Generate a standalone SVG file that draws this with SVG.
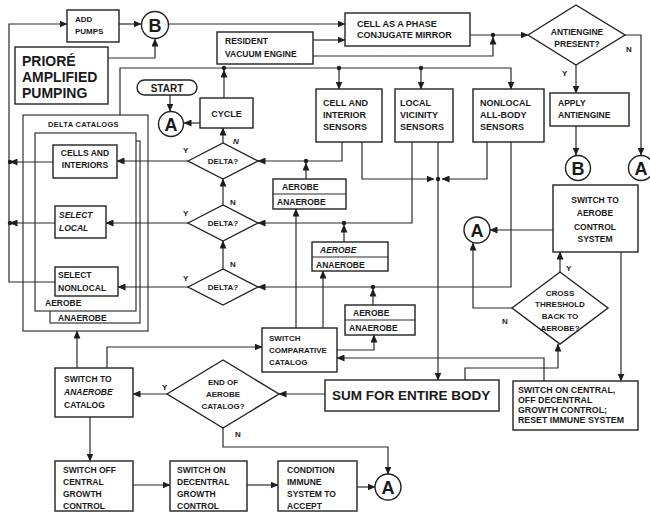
<svg xmlns="http://www.w3.org/2000/svg" width="650" height="516" viewBox="0 0 650 516">
<defs>
<marker id="ah" markerWidth="8" markerHeight="7" refX="7.5" refY="3.5" orient="auto" markerUnits="userSpaceOnUse">
<path d="M0,0 L8,3.5 L0,7 Z" fill="#1e1e1e"/>
</marker>
<style>
.b{fill:#fff;stroke:#222;stroke-width:1.4}
.t{font-family:"Liberation Sans",Arial,sans-serif;font-weight:bold;font-size:8.5px;fill:#1a1a1a}
.s{font-size:8px}
.m{text-anchor:middle}
.i{font-style:italic}
.c{fill:none;stroke:#2a2a2a;stroke-width:1.2;marker-end:url(#ah)}
.l{fill:none;stroke:#2a2a2a;stroke-width:1.2}
.d{fill:#1e1e1e}
.big{font-size:18px}
.n9{font-size:9px}
.p14{font-size:14px}
</style>
</defs>
<rect width="650" height="516" fill="#fff"/>

<!-- Delta catalog stack -->
<g id="delta-catalog">
<rect class="b" x="23" y="115" width="125" height="216" style="stroke-width:1.1"/>
<rect class="b" x="50" y="141" width="90" height="182" style="stroke-width:1.1"/>
<rect class="b" x="35" y="133" width="101" height="178" style="stroke-width:1.1"/>
<text class="t" x="48" y="127" style="font-size:7.5px" letter-spacing="0.3">DELTA CATALOGS</text>
<text class="t" x="45" y="306">AEROBE</text>
<text class="t" x="58" y="321">ANAEROBE</text>
</g>

<g id="connectors">
<path class="c" d="M55,282 H9 V24 H67"/>
<path class="c" d="M53,162 H10"/>
<path class="c" d="M55,223 H10"/>
<path class="c" d="M119,24 H141"/>
<path class="c" d="M108,58 H155 V39"/>
<path class="c" d="M169,24 H345"/>
<path class="c" d="M313,40 H345"/>
<path class="c" d="M470,35 H528"/>
<path class="c" d="M313,56 H493 V37"/>
<path class="c" d="M625,35 H641 V155"/>
<path class="c" d="M576,65 V93"/>
<path class="c" d="M576,126 V155"/>
<path class="c" d="M224,98 V70"/>
<path class="c" d="M120,115 V68 H511 V89"/>
<path class="c" d="M339,68 V89"/>
<path class="c" d="M421,68 V89"/>
<path class="c" d="M170,95 V111"/>
<path class="c" d="M200,123 H184"/>
<path class="c" d="M223,143 V128"/>
<path class="c" d="M223,205 V179"/>
<path class="c" d="M223,269 V241"/>
<path class="c" d="M188,161 H117"/>
<path class="c" d="M188,223 H106"/>
<path class="c" d="M188,287 H118"/>
<path class="c" d="M342,142 V161 H258"/>
<path class="c" d="M306,179 V163"/>
<path class="c" d="M412,142 V223 H258"/>
<path class="c" d="M344,242 V225"/>
<path class="c" d="M511,142 V287 H258"/>
<path class="c" d="M373,305 V289"/>
<path class="c" d="M362,142 V179 H434"/>
<path class="c" d="M487,142 V179 H442"/>
<path class="c" d="M438,142 V380"/>
<path class="c" d="M296,328 V209"/>
<path class="c" d="M323,328 V271"/>
<path class="c" d="M337,350 H374 V335"/>
<path class="c" d="M544,381 V358 H337"/>
<path class="c" d="M465,380 V368 H558 V344"/>
<path class="c" d="M560,272 V252"/>
<path class="c" d="M512,308 H473 V243"/>
<path class="c" d="M553,230 H490"/>
<path class="c" d="M621,252 V381"/>
<path class="c" d="M325,394 H279"/>
<path class="c" d="M167,394 H133"/>
<path class="c" d="M223,428 V447 H388 V474"/>
<path class="c" d="M77,368 V331"/>
<path class="c" d="M107,368 V347 H262"/>
<path class="c" d="M90,417 V461"/>
<path class="c" d="M133,485 H170"/>
<path class="c" d="M247,485 H278"/>
<path class="c" d="M357,487 H375"/>
<circle class="d" cx="10" cy="162" r="2.2"/>
<circle class="d" cx="10" cy="223" r="2.2"/>
<circle class="d" cx="493" cy="35" r="2.2"/>
<circle class="d" cx="224" cy="68" r="2.2"/>
<circle class="d" cx="339" cy="68" r="2.2"/>
<circle class="d" cx="421" cy="68" r="2.2"/>
<circle class="d" cx="306" cy="161" r="2.2"/>
<circle class="d" cx="344" cy="223" r="2.2"/>
<circle class="d" cx="373" cy="287" r="2.2"/>
<circle class="d" cx="438" cy="179" r="2.2"/>
</g>

<g id="add-pumps"><rect class="b" x="67" y="10" width="52" height="32"/>
<text class="t s" x="75" y="22">ADD</text><text class="t s" x="75" y="34">PUMPS</text></g>

<g id="b-top"><circle class="b" cx="155" cy="25" r="13.5"/><text class="t big m" x="155" y="31.5">B</text></g>

<g id="priore"><rect class="b" x="15" y="47" width="93" height="57"/>
<text class="t p14" x="22" y="66">PRIORÉ</text>
<text class="t p14" x="22" y="82">AMPLIFIED</text>
<text class="t p14" x="22" y="98">PUMPING</text></g>

<g id="cell-mirror"><rect class="b" x="345" y="13" width="125" height="33"/>
<text class="t n9" x="357" y="27">CELL AS A PHASE</text>
<text class="t n9" x="357" y="38">CONJUGATE MIRROR</text></g>

<g id="resident"><rect class="b" x="217" y="32" width="96" height="32"/>
<text class="t" x="225" y="44">RESIDENT</text>
<text class="t" x="225" y="57">VACUUM ENGINE</text></g>

<g id="antiengine"><polygon class="b" points="528,35 576,5 625,35 576,65"/>
<text class="t m" x="577" y="35">ANTIENGINE</text>
<text class="t m" x="577" y="47">PRESENT?</text>
<text class="t s" x="626" y="52">N</text>
<text class="t s" x="562" y="76">Y</text></g>

<g id="apply"><rect class="b" x="550" y="93" width="79" height="33"/>
<text class="t" x="558" y="106">APPLY</text>
<text class="t" x="558" y="118">ANTIENGINE</text></g>

<g id="b-right"><circle class="b" cx="578" cy="168" r="12.5"/><text class="t big m" x="578" y="174.5">B</text></g>
<g id="a-right"><circle class="b" cx="641" cy="168" r="12.5"/><text class="t big m" x="641" y="174.5">A</text></g>

<g id="start"><rect class="b" x="137" y="80" width="60" height="15" rx="7.5"/>
<text class="t m" x="167" y="91.5" style="font-size:10px">START</text></g>

<g id="a-start"><circle class="b" cx="171" cy="124" r="12.5"/><text class="t big m" x="171" y="130.5">A</text></g>

<g id="cycle"><rect class="b" x="200" y="98" width="53" height="30"/>
<text class="t m n9" x="226.5" y="117">CYCLE</text></g>

<g id="sensor-cell"><rect class="b" x="316" y="89" width="66" height="53"/>
<text class="t n9" x="323" y="106">CELL AND</text>
<text class="t n9" x="323" y="118">INTERIOR</text>
<text class="t n9" x="323" y="130">SENSORS</text></g>

<g id="sensor-local"><rect class="b" x="395" y="89" width="58" height="53"/>
<text class="t n9" x="400" y="106">LOCAL</text>
<text class="t n9" x="400" y="118">VICINITY</text>
<text class="t n9" x="400" y="130">SENSORS</text></g>

<g id="sensor-nonlocal"><rect class="b" x="473" y="89" width="71" height="53"/>
<text class="t n9" x="480" y="106">NONLOCAL</text>
<text class="t n9" x="480" y="118">ALL-BODY</text>
<text class="t n9" x="480" y="130">SENSORS</text></g>

<g id="delta1"><polygon class="b" points="188,161 223,143 258,161 223,179"/>
<text class="t s m" x="223" y="164">DELTA?</text>
<text class="t s" x="183" y="153">Y</text><text class="t s i" x="233" y="144">N</text></g>
<g id="delta2"><polygon class="b" points="188,223 223,205 258,223 223,241"/>
<text class="t s m" x="223" y="226">DELTA?</text>
<text class="t s" x="183" y="216">Y</text><text class="t s" x="230" y="205">N</text></g>
<g id="delta3"><polygon class="b" points="188,287 223,269 258,287 223,305"/>
<text class="t s m" x="223" y="290">DELTA?</text>
<text class="t s" x="183" y="281">Y</text><text class="t s" x="230" y="267">N</text></g>

<g id="cells-interiors"><rect class="b" x="53" y="145" width="64" height="33"/>
<text class="t m" x="85" y="156">CELLS AND</text>
<text class="t m" x="85" y="168">INTERIORS</text></g>

<g id="select-local"><rect class="b" x="55" y="206" width="51" height="32"/>
<text class="t i" x="59" y="218">SELECT</text>
<text class="t i" x="59" y="231">LOCAL</text></g>

<g id="select-nonlocal"><rect class="b" x="55" y="267" width="63" height="29"/>
<text class="t" x="58" y="278">SELECT</text>
<text class="t" x="58" y="291">NONLOCAL</text></g>

<g id="catalog1"><rect class="b" x="273" y="179" width="73" height="30"/>
<line class="l" x1="273" y1="194" x2="346" y2="194"/>
<text class="t" x="282" y="190">AEROBE</text>
<text class="t" x="277" y="205">ANAEROBE</text></g>

<g id="catalog2"><rect class="b" x="312" y="242" width="76" height="29"/>
<line class="l" x1="312" y1="257" x2="388" y2="257"/>
<text class="t i" x="320" y="253">AEROBE</text>
<text class="t" x="316" y="268">ANAEROBE</text></g>

<g id="catalog3"><rect class="b" x="345" y="305" width="70" height="30"/>
<line class="l" x1="345" y1="320" x2="415" y2="320"/>
<text class="t" x="353" y="316">AEROBE</text>
<text class="t" x="349" y="331">ANAEROBE</text></g>

<g id="a-mid"><circle class="b" cx="477" cy="230" r="13"/><text class="t big m" x="477" y="236.5">A</text></g>

<g id="switch-aerobe"><rect class="b" x="553" y="185" width="85" height="67"/>
<text class="t m" x="595" y="203">SWITCH TO</text>
<text class="t m" x="595" y="216">AEROBE</text>
<text class="t m" x="595" y="230">CONTROL</text>
<text class="t m" x="595" y="242">SYSTEM</text></g>

<g id="cross-threshold"><polygon class="b" points="512,308 560,272 608,308 560,344"/>
<text class="t s m" x="560" y="296">CROSS</text>
<text class="t s m" x="560" y="307">THRESHOLD</text>
<text class="t s m" x="560" y="319">BACK TO</text>
<text class="t s m" x="560" y="331">AEROBE?</text>
<text class="t s" x="566" y="271">Y</text>
<text class="t s" x="502" y="324">N</text></g>

<g id="switch-comparative"><rect class="b" x="262" y="328" width="75" height="44"/>
<text class="t s" x="269" y="341">SWITCH</text>
<text class="t s" x="269" y="353">COMPARATIVE</text>
<text class="t s" x="269" y="365">CATALOG</text></g>

<g id="sum"><rect class="b" x="325" y="380" width="174" height="31"/>
<text class="t" x="332" y="400" style="font-size:13.5px">SUM FOR ENTIRE BODY</text></g>

<g id="switch-central"><rect class="b" x="513" y="381" width="125" height="49"/>
<text class="t" x="518" y="393" style="font-size:8.8px">SWITCH ON CENTRAL,</text>
<text class="t" x="518" y="403" style="font-size:8.8px">OFF DECENTRAL</text>
<text class="t" x="518" y="413" style="font-size:8.8px">GROWTH CONTROL;</text>
<text class="t" x="518" y="423" style="font-size:8.8px">RESET IMMUNE SYSTEM</text></g>

<g id="end-aerobe"><polygon class="b" points="167,394 223,360 279,394 223,428"/>
<text class="t s m" x="223" y="385">END OF</text>
<text class="t s m" x="223" y="397">AEROBE</text>
<text class="t s m" x="223" y="409">CATALOG?</text>
<text class="t s" x="162" y="390">Y</text>
<text class="t s" x="235" y="437">N</text></g>

<g id="switch-anaerobe"><rect class="b" x="55" y="368" width="78" height="49"/>
<text class="t" x="64" y="382">SWITCH TO</text>
<text class="t i" x="64" y="395">ANAEROBE</text>
<text class="t" x="64" y="408">CATALOG</text></g>

<g id="switch-off"><rect class="b" x="55" y="461" width="78" height="50"/>
<text class="t" x="63" y="473">SWITCH OFF</text>
<text class="t" x="63" y="485">CENTRAL</text>
<text class="t" x="63" y="497">GROWTH</text>
<text class="t" x="63" y="509">CONTROL</text></g>

<g id="switch-on"><rect class="b" x="170" y="461" width="77" height="50"/>
<text class="t" x="177" y="473">SWITCH ON</text>
<text class="t" x="177" y="485">DECENTRAL</text>
<text class="t" x="177" y="497">GROWTH</text>
<text class="t" x="177" y="509">CONTROL</text></g>

<g id="condition"><rect class="b" x="278" y="461" width="79" height="50"/>
<text class="t" x="287" y="473">CONDITION</text>
<text class="t" x="287" y="485">IMMUNE</text>
<text class="t" x="287" y="497">SYSTEM TO</text>
<text class="t" x="287" y="509">ACCEPT</text></g>

<g id="a-bottom"><circle class="b" cx="388" cy="487" r="13"/><text class="t big m" x="388" y="493.5">A</text></g>
</svg>
